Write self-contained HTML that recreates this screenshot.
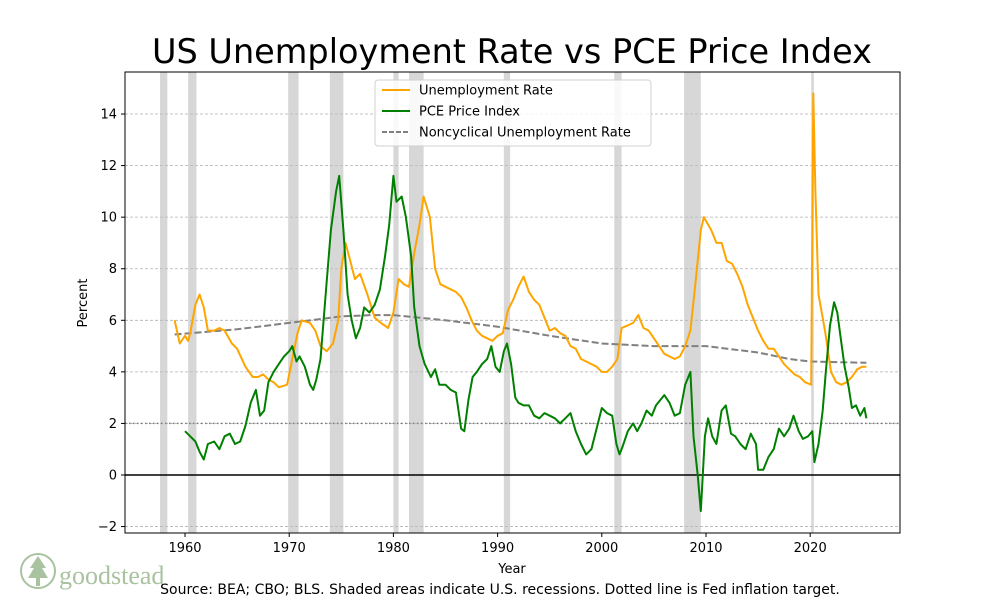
<!DOCTYPE html>
<html><head><meta charset="utf-8"><style>
body{margin:0;background:#fff;}
svg{display:block;font-family:"DejaVu Sans","Liberation Sans",sans-serif;}
</style></head><body>
<svg id="c" width="1000" height="600" xmlns="http://www.w3.org/2000/svg"></svg>
<script>
const recessions=[[1957.6,1958.3],[1960.3,1961.1],[1969.9,1970.9],[1973.9,1975.2],[1980.0,1980.5],[1981.5,1982.9],[1990.6,1991.2],[2001.2,2001.9],[2007.9,2009.5],[2020.1,2020.35]];
const unYears=[1959,1959.5,1960,1960.3,1960.5,1961,1961.4,1961.8,1962.2,1962.8,1963.3,1963.8,1964.5,1965,1965.8,1966.5,1967,1967.5,1968,1968.5,1969,1969.8,1970.3,1970.8,1971.2,1972,1972.5,1973,1973.6,1974.2,1974.7,1975,1975.4,1975.8,1976.3,1976.8,1977.5,1978.2,1978.8,1979.5,1980,1980.5,1981,1981.5,1982,1982.5,1982.9,1983.5,1984,1984.5,1985,1986,1986.5,1987,1987.5,1988,1988.5,1989,1989.5,1990,1990.5,1991,1991.5,1992,1992.5,1993,1993.5,1994,1994.5,1995,1995.5,1996,1996.5,1997,1997.5,1998,1998.5,1999,1999.5,2000,2000.5,2001,2001.5,2001.9,2002.5,2003,2003.5,2004,2004.5,2005,2005.5,2006,2006.5,2007,2007.5,2008,2008.5,2009,2009.5,2009.8,2010.5,2011,2011.5,2012,2012.5,2013,2013.5,2014,2014.5,2015,2015.5,2016,2016.5,2017,2017.5,2018,2018.5,2019,2019.5,2020.1,2020.3,2020.5,2020.8,2021.2,2021.5,2022,2022.5,2023,2023.5,2024,2024.5,2025,2025.4];
const unValues=[6.0,5.1,5.4,5.2,5.5,6.6,7.0,6.5,5.6,5.6,5.7,5.6,5.1,4.9,4.2,3.8,3.8,3.9,3.7,3.6,3.4,3.5,4.5,5.5,6.0,5.9,5.6,5.0,4.8,5.1,6.0,8.0,9.0,8.4,7.6,7.8,7.0,6.1,5.9,5.7,6.3,7.6,7.4,7.3,8.6,9.7,10.8,10.0,8.0,7.4,7.3,7.1,6.9,6.5,6.0,5.6,5.4,5.3,5.2,5.4,5.5,6.4,6.8,7.3,7.7,7.1,6.8,6.6,6.1,5.6,5.7,5.5,5.4,5.0,4.9,4.5,4.4,4.3,4.2,4.0,4.0,4.2,4.5,5.7,5.8,5.9,6.2,5.7,5.6,5.3,5.0,4.7,4.6,4.5,4.6,5.0,5.6,7.5,9.5,10.0,9.5,9.0,9.0,8.3,8.2,7.8,7.3,6.6,6.1,5.6,5.2,4.9,4.9,4.6,4.3,4.1,3.9,3.8,3.6,3.5,14.8,11.0,7.0,6.1,5.4,4.0,3.6,3.5,3.6,3.8,4.1,4.2,4.2];
const pceYears=[1960,1960.5,1961,1961.4,1961.8,1962.2,1962.8,1963.3,1963.8,1964.3,1964.8,1965.3,1965.8,1966.3,1966.8,1967.2,1967.6,1968,1968.5,1969,1969.5,1970,1970.3,1970.7,1971,1971.5,1972,1972.3,1972.6,1973,1973.3,1973.6,1974,1974.5,1974.8,1975.2,1975.6,1976,1976.4,1976.8,1977.2,1977.7,1978.2,1978.7,1979.2,1979.6,1980,1980.3,1980.8,1981.2,1981.7,1982,1982.5,1983,1983.6,1984,1984.4,1985,1985.5,1986,1986.5,1986.8,1987.2,1987.6,1988,1988.5,1989,1989.4,1989.8,1990.2,1990.6,1990.9,1991.3,1991.7,1992,1992.5,1993,1993.5,1994,1994.5,1995,1995.5,1996,1996.5,1997,1997.5,1998,1998.5,1999,1999.5,2000,2000.5,2001,2001.4,2001.7,2002,2002.5,2003,2003.4,2003.8,2004.3,2004.8,2005.2,2005.6,2006,2006.5,2007,2007.5,2008,2008.5,2008.8,2009.2,2009.5,2009.9,2010.2,2010.6,2011,2011.5,2011.9,2012.4,2012.8,2013.3,2013.8,2014.3,2014.8,2015,2015.5,2016,2016.5,2017,2017.5,2018,2018.4,2018.9,2019.3,2019.8,2020.2,2020.4,2020.8,2021.2,2021.5,2021.9,2022.3,2022.6,2022.9,2023.3,2023.7,2024,2024.4,2024.8,2025.2,2025.4];
const pceValues=[1.7,1.5,1.3,0.9,0.6,1.2,1.3,1.0,1.5,1.6,1.2,1.3,1.9,2.8,3.3,2.3,2.5,3.6,4.0,4.3,4.6,4.8,5.0,4.4,4.6,4.2,3.5,3.3,3.7,4.5,6.0,7.5,9.5,11.0,11.6,9.5,7.0,6.0,5.3,5.7,6.5,6.3,6.6,7.2,8.5,9.7,11.6,10.6,10.8,10.0,8.5,6.5,5.0,4.3,3.8,4.1,3.5,3.5,3.3,3.2,1.8,1.7,2.9,3.8,4.0,4.3,4.5,5.0,4.2,4.0,4.8,5.1,4.3,3.0,2.8,2.7,2.7,2.3,2.2,2.4,2.3,2.2,2.0,2.2,2.4,1.7,1.2,0.8,1.0,1.8,2.6,2.4,2.3,1.2,0.8,1.1,1.7,2.0,1.7,2.0,2.5,2.3,2.7,2.9,3.1,2.8,2.3,2.4,3.5,4.0,1.5,0.0,-1.4,1.5,2.2,1.5,1.2,2.5,2.7,1.6,1.5,1.2,1.0,1.6,1.2,0.2,0.2,0.7,1.0,1.8,1.5,1.8,2.3,1.7,1.4,1.5,1.7,0.5,1.2,2.5,4.0,5.8,6.7,6.3,5.4,4.2,3.4,2.6,2.7,2.3,2.6,2.2];
const ncYears=[1959,1965,1970,1975,1978,1980,1985,1990,1995,2000,2005,2010,2015,2018,2020,2025.4];
const ncValues=[5.45,5.65,5.9,6.15,6.2,6.2,6.0,5.75,5.4,5.1,5.0,5.0,4.75,4.5,4.4,4.35];
const yTicks=[-2,0,2,4,6,8,10,12,14];
const xTicks=[1960,1970,1980,1990,2000,2010,2020];

const L=125,R=900,T=72,B=533,X0=1954.24,X1=2028.62,Y0=-2.25,Y1=15.63;
const sx=v=>L+(v-X0)/(X1-X0)*(R-L);
const sy=v=>B-(v-Y0)/(Y1-Y0)*(B-T);
const svg=document.getElementById('c');
const NS='http://www.w3.org/2000/svg';
function mk(tag,attrs,parent,text){const e=document.createElementNS(NS,tag);for(const k in attrs)e.setAttribute(k,attrs[k]);if(text!==undefined)e.textContent=text;(parent||svg).appendChild(e);return e;}

let e;
e=mk('rect',{x:0,y:0,width:1000,height:600,fill:'#fff'});


yTicks.forEach(t=>{
  e=mk('line',{x1:L,x2:R,y1:sy(t),y2:sy(t),stroke:'#b0b0b0','stroke-width':0.8,'stroke-dasharray':'3,2'});
  
  
});
recessions.forEach(r=>{
  e=mk('rect',{x:sx(r[0]),y:T,width:sx(r[1])-sx(r[0]),height:B-T,fill:'#bdbdbd','fill-opacity':0.6});
  
  
});
e=mk('line',{x1:L,x2:R,y1:sy(0),y2:sy(0),stroke:'#000','stroke-width':1.5});


e=mk('line',{x1:L,x2:R,y1:sy(2),y2:sy(2),stroke:'#808080','stroke-width':1.5,'stroke-dasharray':'1.5,2.5'});


function path(xs,ys){return xs.map((x,i)=>(i?'L':'M')+sx(x).toFixed(1)+','+sy(ys[i]).toFixed(1)).join('');}
e=mk('path',{d:path(ncYears,ncValues),fill:'none',stroke:'#808080','stroke-width':2,'stroke-dasharray':'7,3'});


e=mk('path',{d:path(unYears,unValues),fill:'none',stroke:'orange','stroke-width':2,'stroke-linejoin':'round'});


e=mk('path',{d:path(pceYears,pceValues),fill:'none',stroke:'green','stroke-width':2,'stroke-linejoin':'round'});


e=mk('rect',{x:L,y:T,width:R-L,height:B-T,fill:'none',stroke:'#000','stroke-width':1});


yTicks.forEach(t=>{
  e=mk('line',{x1:L-4,x2:L,y1:sy(t),y2:sy(t),stroke:'#000'});
  
  
  e=mk('text',{x:L-8,y:sy(t)+4.5,'text-anchor':'end','font-size':13},svg,t<0?'\u2212'+(-t):String(t));
  
  
});
xTicks.forEach(t=>{
  e=mk('line',{x1:sx(t),x2:sx(t),y1:B,y2:B+4,stroke:'#000'});
  
  
  e=mk('text',{x:sx(t),y:B+19,'text-anchor':'middle','font-size':13},svg,String(t));
  
  
});
e=mk('text',{x:512,y:63,'text-anchor':'middle','font-size':33.5},svg,'US Unemployment Rate vs PCE Price Index');


e=mk('text',{x:512,y:573,'text-anchor':'middle','font-size':13},svg,'Year');


e=mk('text',{x:87,y:303,'text-anchor':'middle','font-size':13,transform:'rotate(-90 87 303)'},svg,'Percent');


e=mk('text',{x:500,y:594,'text-anchor':'middle','font-size':14},svg,'Source: BEA; CBO; BLS. Shaded areas indicate U.S. recessions. Dotted line is Fed inflation target.');


const lg=mk('g',{});


mk('rect',{x:375,y:80,width:276,height:66,rx:3,fill:'#fff','fill-opacity':0.85,stroke:'#d0d0d0'},lg);
const items=[['Unemployment Rate','orange',''],['PCE Price Index','green',''],['Noncyclical Unemployment Rate','#808080','5,2']];
items.forEach((it,i)=>{
  const y=90+i*21;
  const g=mk('g',{},lg);
  
  
  mk('line',{x1:382,x2:410,y1:y,y2:y,stroke:it[1],'stroke-width':2,'stroke-dasharray':it[2]||'none'},g);
  mk('text',{x:419,y:y+4.5,'font-size':13},g,it[0]);
});
const lo=mk('g',{});


mk('circle',{cx:38,cy:571,r:17,fill:'none',stroke:'#a9c2a0','stroke-width':2},lo);
mk('path',{d:'M38,556 L30,568 L34,568 L28,578 L36,578 L36,586 L40,586 L40,578 L48,578 L42,568 L46,568 Z',fill:'#a9c2a0'},lo);
mk('text',{x:59,y:584,'font-size':26,fill:'#a9c2a0','font-family':'"Liberation Serif",serif'},lo,'goodstead');
</script>
</body></html>
